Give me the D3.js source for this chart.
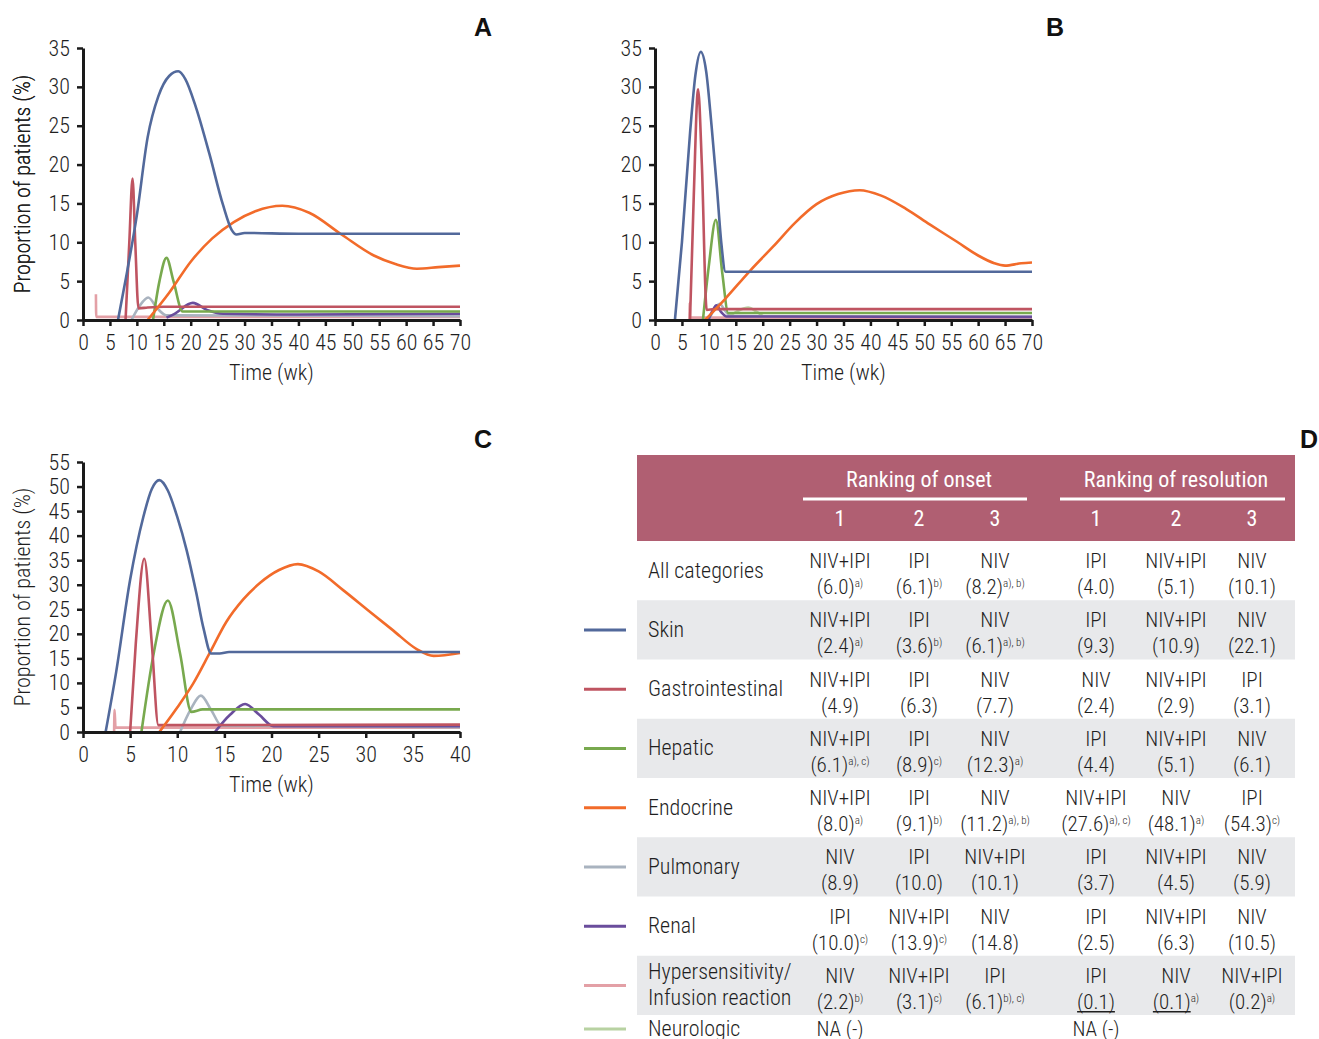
<!DOCTYPE html>
<html>
<head>
<meta charset="utf-8">
<script src="https://cdn.jsdelivr.net/npm/d3@7"></script>
<style>
body { margin: 0; background: #fff; }
text { font-family: "Liberation Sans Narrow", "Roboto Condensed", "Roboto", sans-serif; font-weight: 300; }
</style>
</head>
<body>
<script>
// series names + colours (legend of table D)
var seriesNames = ["Skin", "Gastrointestinal", "Hepatic", "Endocrine", "Pulmonary", "Renal", "Hypersensitivity", "Neurologic"];
var seriesColors = ["#52699b", "#bf5461", "#78a94e", "#f26b2a", "#a9b3bf", "#6a4d9c", "#e3a0a6", "#b8d2a2"];

// panel A  [week, percent]
var skinA = [[6.5,0],[8,5.5],[10,13.5],[12,23.5],[14,28.8],[16,31.4],[17.7,32],[19,31],[21,27.3],[23.5,21.3],[26,14.8],[27.6,11.6],[28.5,11],[30,11.2],[40,11.1],[70,11.1]];
var giA = [[7.9,0],[8.6,10],[9.2,18.2],[9.7,10],[10.3,1.5],[12,1.6],[15,1.7],[70,1.7]];
var hepA = [[13,0],[14.2,5],[15.5,8],[16.8,5],[18.5,1.1],[70,1.1]];
var endoA = [[12,0],[16,3.5],[20,7.5],[24,10.5],[28,12.6],[32,14],[37,14.7],[42,13.8],[48,11],[54,8.3],[58,7.2],[62,6.6],[66,6.8],[70,7]];
var pulmA = [[9,0],[10.5,1.8],[12.1,2.9],[13.8,1.5],[15.5,0.6],[70,0.5]];
var renA = [[15.5,0.3],[17,0.8],[20.4,2.2],[23,1.3],[26,0.8],[40,0.7],[70,0.8]];
var hypA = [[2.4,3.3],[2.45,0.4],[70,0.4]];
var neuA = [];

// panel B
var skinB = [[3.7,0],[5,10],[6.5,24],[7.5,31.5],[8.5,34.5],[9.5,32],[10.5,25],[11.5,17],[12.3,10],[13.1,6.2],[70,6.2]];
var giB = [[6.5,0],[7.2,16],[8,29.7],[8.7,20],[9.6,1.3],[11,1.4],[70,1.4]];
var hepB = [[8.9,0],[10,7],[11.3,12.9],[12.5,6],[13.6,0.9],[70,0.9]];
var endoB = [[9.3,0],[13,2.7],[17.6,6.3],[22,9.5],[26,12.5],[30,14.9],[34,16.2],[38,16.7],[42,16],[46.6,14.3],[51,12.3],[56,10.1],[60,8.3],[63,7.3],[65,7],[68,7.3],[70,7.4]];
var pulmB = [[10,0],[11,1.4],[12,2.1],[13,1.2],[14,0.5],[70,0.4]];
var renB = [[9.9,0],[10.7,1.2],[11.4,1.9],[12.3,1],[13.3,0.45],[70,0.4]];
var hypB = [[6.4,0],[6.45,2.2],[6.5,0.3],[70,0.3]];
var neuB = [[13.6,0.4],[15.5,1.2],[17.3,1.6],[19,1],[20.7,0.3],[70,0.3]];

// panel C
var skinC = [[2.4,0],[3.5,12],[5,31],[6.4,43.8],[7.3,49.5],[8.1,51.3],[9,49.2],[10,43.8],[11,37],[12,28.5],[12.8,21],[13.6,16],[14.5,16],[15.5,16.3],[40,16.3]];
var giC = [[5,0],[5.6,18],[6.5,35.3],[7.3,18],[8,1.4],[40,1.5]];
var hepC = [[6.2,0],[7.5,16],[9,26.8],[10.3,16],[11.5,4.1],[12.7,4.6],[40,4.6]];
var endoC = [[8.1,0],[10,5],[11.7,9.9],[13.5,16.3],[15.2,22.4],[17,27],[18.8,30.4],[20.8,33],[22.8,34.2],[25,32.7],[27.6,28.9],[30.3,24.7],[32.9,20.7],[35.4,16.9],[37.2,15.5],[40,16.1]];
var pulmC = [[10.3,0],[11.4,4.5],[12.5,7.4],[13.6,4.5],[14.7,1.3],[40,1.0]];
var renC = [[14,0],[15.6,3.5],[17.2,5.7],[18.7,3.5],[20.2,1.2],[40,1.2]];
var hypC = [[3.3,0],[3.35,4.5],[3.45,0.9],[40,0.9]];
var neuC = [];

// table D
var onsetHead = "Ranking of onset";
var resolHead = "Ranking of resolution";
var rankLabels = ["1", "2", "3", "1", "2", "3"];
var rowLabels = ["All categories", "Skin", "Gastrointestinal", "Hepatic", "Endocrine", "Pulmonary", "Renal", "Hypersensitivity/|Infusion reaction", "Neurologic"];
var rowLegend = [null, 0, 1, 2, 3, 4, 5, 6, 7];
// drug|value|footnote|underline
var cells = [
  ["NIV+IPI|6.0|a)", "IPI|6.1|b)", "NIV|8.2|a), b)", "IPI|4.0|", "NIV+IPI|5.1|", "NIV|10.1|"],
  ["NIV+IPI|2.4|a)", "IPI|3.6|b)", "NIV|6.1|a), b)", "IPI|9.3|", "NIV+IPI|10.9|", "NIV|22.1|"],
  ["NIV+IPI|4.9|", "IPI|6.3|", "NIV|7.7|", "NIV|2.4|", "NIV+IPI|2.9|", "IPI|3.1|"],
  ["NIV+IPI|6.1|a), c)", "IPI|8.9|c)", "NIV|12.3|a)", "IPI|4.4|", "NIV+IPI|5.1|", "NIV|6.1|"],
  ["NIV+IPI|8.0|a)", "IPI|9.1|b)", "NIV|11.2|a), b)", "NIV+IPI|27.6|a), c)", "NIV|48.1|a)", "IPI|54.3|c)"],
  ["NIV|8.9|", "IPI|10.0|", "NIV+IPI|10.1|", "IPI|3.7|", "NIV+IPI|4.5|", "NIV|5.9|"],
  ["IPI|10.0|c)", "NIV+IPI|13.9|c)", "NIV|14.8|", "IPI|2.5|", "NIV+IPI|6.3|", "NIV|10.5|"],
  ["NIV|2.2|b)", "NIV+IPI|3.1|c)", "IPI|6.1|b), c)", "IPI|0.1||u", "NIV|0.1|a)|u", "NIV+IPI|0.2|a)"],
  ["NA (-)", "", "", "NA (-)", "", ""]
];

var ink = "#1f1f1f";

var svg = d3.select("body").append("svg")
  .attr("width", 1319)
  .attr("height", 1039);

var line = function(x, y) {
  return d3.line()
    .x(function(d) { return x(d[0]); })
    .y(function(d) { return y(d[1]); })
    .curve(d3.curveMonotoneX);
};

function drawPanel(p) {
  var g = svg.append("g");
  var x = d3.scaleLinear().domain([0, p.xmax]).range([p.left, p.right]);
  var y = d3.scaleLinear().domain([0, p.ymax]).range([p.bottom, p.top]);

  var order = [7, 6, 4, 5, 2, 1, 3, 0];
  order.forEach(function(i) {
    if (!p.series[i].length) return;
    g.append("path")
      .datum(p.series[i])
      .attr("d", line(x, y))
      .attr("fill", "none")
      .attr("stroke", seriesColors[i])
      .attr("stroke-width", 2.6)
      .attr("stroke-linejoin", "round");
  });

  var xa = g.append("g")
    .attr("transform", "translate(0," + p.bottom + ")")
    .call(d3.axisBottom(x).tickValues(d3.range(0, p.xmax + 1, 5)).tickSize(6).tickPadding(8).tickSizeOuter(0));
  var ya = g.append("g")
    .attr("transform", "translate(" + p.left + ",0)")
    .call(d3.axisLeft(y).tickValues(d3.range(0, p.ymax + 1, 5)).tickSize(6).tickPadding(7).tickSizeOuter(0));
  [xa, ya].forEach(function(a) {
    a.select(".domain").attr("stroke", "#1a1a1a").attr("stroke-width", 3);
    a.selectAll(".tick line").attr("stroke", "#1a1a1a").attr("stroke-width", 2.5);
    a.selectAll(".tick text").attr("fill", ink).style("font-size", "22px");
  });

  g.append("text")
    .attr("transform", "translate(22," + (p.top + p.bottom) / 2 + ") rotate(-90)")
    .attr("dy", "0.35em")
    .style("text-anchor", "middle")
    .style("font-size", "22px")
    .attr("fill", ink)
    .text("Proportion of patients (%)");

  g.append("text")
    .attr("x", (p.left + p.right) / 2)
    .attr("y", p.bottom + 60)
    .style("text-anchor", "middle")
    .style("font-size", "22px")
    .attr("fill", ink)
    .text("Time (wk)");

  g.append("text")
    .attr("x", p.letterX)
    .attr("y", p.letterY)
    .style("text-anchor", "middle")
    .style("font-size", "25px")
    .style("font-weight", "bold")
    .style("font-family", "Liberation Sans, Arial, sans-serif")
    .attr("fill", "#111")
    .text(p.letter);
}

drawPanel({ letter: "A", letterX: 483, letterY: 36, xmax: 70, ymax: 35, left: 83, right: 460, top: 48, bottom: 320,
  series: [skinA, giA, hepA, endoA, pulmA, renA, hypA, neuA] });
drawPanel({ letter: "B", letterX: 1055, letterY: 36, xmax: 70, ymax: 35, left: 655, right: 1032, top: 48, bottom: 320,
  series: [skinB, giB, hepB, endoB, pulmB, renB, hypB, neuB] });
drawPanel({ letter: "C", letterX: 483, letterY: 448, xmax: 40, ymax: 55, left: 83, right: 460, top: 462, bottom: 732,
  series: [skinC, giC, hepC, endoC, pulmC, renC, hypC, neuC] });

// ---- table D ----
var t = svg.append("g");
var tLeft = 637, tRight = 1295, headTop = 455, headBottom = 541;
var colX = [840, 919, 995, 1096, 1176, 1252];
var headColor = "#b05f72";

t.append("text")
  .attr("x", 1309).attr("y", 448)
  .style("text-anchor", "middle")
  .style("font-size", "25px")
  .style("font-weight", "bold")
  .style("font-family", "Liberation Sans, Arial, sans-serif")
  .attr("fill", "#111")
  .text("D");

t.append("rect")
  .attr("x", tLeft).attr("y", headTop)
  .attr("width", tRight - tLeft).attr("height", headBottom - headTop)
  .attr("fill", headColor);

[[onsetHead, 919, 803, 1027], [resolHead, 1176, 1060, 1285]].forEach(function(h) {
  t.append("text")
    .attr("x", h[1]).attr("y", 487)
    .style("text-anchor", "middle").style("font-size", "22px")
    .style("font-weight", 400)
    .attr("fill", "#fff").text(h[0]);
  t.append("line")
    .attr("x1", h[2]).attr("x2", h[3]).attr("y1", 499).attr("y2", 499)
    .attr("stroke", "#fff").attr("stroke-width", 3);
});

rankLabels.forEach(function(r, i) {
  t.append("text")
    .attr("x", colX[i]).attr("y", 526)
    .style("text-anchor", "middle").style("font-size", "22px")
    .style("font-weight", 400)
    .attr("fill", "#fff").text(r);
});

var rowH = 59.25;
rowLabels.forEach(function(lab, r) {
  var top = headBottom + r * rowH;
  var last = r === rowLabels.length - 1;
  var h = last ? 28 : rowH;
  if (r % 2 === 1) {
    t.append("rect")
      .attr("x", tLeft).attr("y", top)
      .attr("width", tRight - tLeft).attr("height", h)
      .attr("fill", "#e8e9eb");
  }
  var mid = top + h / 2;
  if (rowLegend[r] !== null) {
    t.append("line")
      .attr("x1", 584).attr("x2", 626).attr("y1", mid).attr("y2", mid)
      .attr("stroke", seriesColors[rowLegend[r]]).attr("stroke-width", 3);
  }
  var parts = lab.split("|");
  parts.forEach(function(s, k) {
    t.append("text")
      .attr("x", 648)
      .attr("y", mid + 7 + (k - (parts.length - 1) / 2) * 26)
      .style("font-size", "22px")
      .attr("fill", ink)
      .text(s);
  });

  cells[r].forEach(function(c, i) {
    if (!c) return;
    var f = c.split("|");
    if (f.length === 1) {
      t.append("text")
        .attr("x", colX[i]).attr("y", mid + 7)
        .style("text-anchor", "middle").style("font-size", "21px")
        .attr("fill", ink).text(f[0]);
      return;
    }
    t.append("text")
      .attr("x", colX[i]).attr("y", top + 27)
      .style("text-anchor", "middle").style("font-size", "21px")
      .attr("fill", ink).text(f[0]);
    var tx = t.append("text")
      .attr("x", colX[i]).attr("y", top + 53)
      .style("text-anchor", "middle").style("font-size", "21px")
      .attr("fill", ink);
    var v = tx.append("tspan").text("(" + f[1] + ")");
    if (f[2]) {
      tx.append("tspan")
        .attr("dy", -7)
        .style("font-size", "11px")
        .text(f[2]);
    }
    if (f[3] === "u") {
      var x0 = tx.node().getStartPositionOfChar(0).x;
      var w = v.node().getComputedTextLength();
      t.append("line")
        .attr("x1", x0).attr("x2", x0 + w)
        .attr("y1", top + 56).attr("y2", top + 56)
        .attr("stroke", ink).attr("stroke-width", 1.6);
    }
  });
});
</script>
</body>
</html>
